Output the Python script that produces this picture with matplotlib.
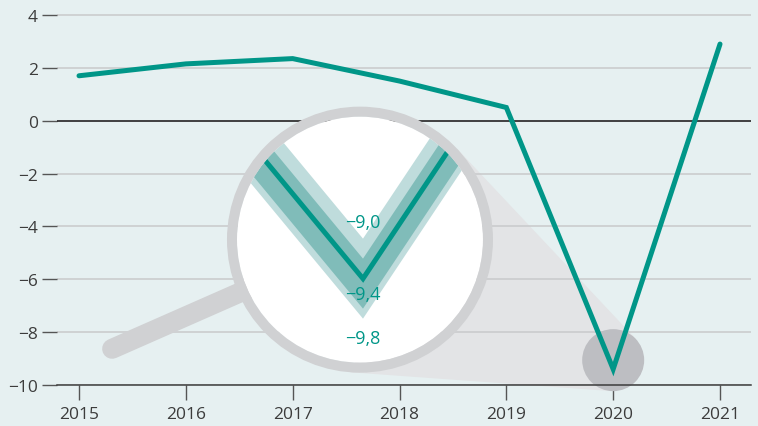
# -*- coding: utf-8 -*-
# Crescimento anual com lupa sobre 2020

import numpy as np
import matplotlib.pyplot as plt
from matplotlib.patches import Circle, Polygon
from matplotlib.lines import Line2D
from matplotlib.transforms import IdentityTransform

plt.rcParams['font.family'] = ['Open Sans', 'DejaVu Sans']

# Dados
anos = [2015, 2016, 2017, 2018, 2019, 2020, 2021]
valores = [1.7, 2.15, 2.35, 1.5, 0.5, -9.4, 2.9]
yticks = [4, 2, 0, -2, -4, -6, -8, -10]

# Faixas de incerteza mostradas na lupa (em torno do valor de 2020)
faixa_clara = (0.4, -0.4)
faixa_escura = (0.2, -0.3)
rotulos_lupa = ['−9,0', '−9,4', '−9,8']
valores_lupa = [-9.0, -9.4, -9.8]

# Cores
fundo = '#e6f0f1'
verde = '#009688'
verde_medio = '#80bcb9'
verde_claro = '#bfdcdc'
cinza_anel = '#d0d1d3'
cinza_cone = '#e3e4e6'
cinza_ponto = '#bdbec2'
texto = '#3c3c3c'

W, H = 758, 427
fig = plt.figure(figsize=(W / 100, H / 100), dpi=100, facecolor=fundo)
ax = fig.add_axes([57 / W, 1 - 386 / H, (751 - 57) / W, 386 / H])
ax.set_facecolor(fundo)
ax.set_xlim(2014.794, 2021.29)
ax.set_ylim(-10, 4.605)

ax.set_xticks(anos)
ax.set_yticks(yticks)
ax.set_yticklabels([str(v).replace('-', '−') for v in yticks])
ax.tick_params(axis='both', labelsize=12.5, labelcolor=texto, color='#555555',
               length=10.8, width=1)
ax.tick_params(axis='y', pad=3)
ax.tick_params(axis='x', pad=4)
for s in ['top', 'right', 'left']:
    ax.spines[s].set_visible(False)
ax.spines['bottom'].set_color('#3c3c3c')
ax.spines['bottom'].set_linewidth(1.1)
ax.yaxis.grid(True, color='#c8c9cb', lw=1.1)
ax.axhline(0, color='#1a1a1a', lw=1.1, zorder=1.6)
for t, v in zip(ax.yaxis.get_major_ticks(), yticks):
    if v == 0:
        t.tick1line.set_color('#1a1a1a')
    if v == -10:
        t.tick1line.set_color('#3c3c3c')

# Linha principal
ax.plot(anos, valores, color=verde, lw=3.6, solid_joinstyle='miter',
        solid_capstyle='round', zorder=3)

# Geometria da lupa (em pixels de tela)
idx = anos.index(2020)
cx, cy = ax.transData.transform((2017.63, -4.5))
R = 133.0
px, py = ax.transData.transform((anos[idx], valores[idx]))
py += 9
r = 31.0

# Cone entre a lupa e o ponto de 2020
c1 = np.array([cx, cy])
c2 = np.array([px, py])
d = np.linalg.norm(c2 - c1)
u = (c2 - c1) / d
th = np.arccos((R - r) / d)
pts = []
for sgn in (1, -1):
    a = sgn * th
    n = np.array([u[0] * np.cos(a) - u[1] * np.sin(a),
                  u[0] * np.sin(a) + u[1] * np.cos(a)])
    pts.append((c1 + R * n, c2 + r * n))
poly = [pts[0][0], pts[0][1], pts[1][1], pts[1][0]]
ax.add_patch(Polygon(poly, closed=True, facecolor=cinza_cone, edgecolor='none',
                     transform=IdentityTransform(), clip_on=False, zorder=1))
ax.add_patch(Circle((px, py), r, facecolor=cinza_ponto, edgecolor='none',
                    transform=IdentityTransform(), clip_on=False, zorder=2))

# Cabo
hx, hy = ax.transData.transform((2015.31, -8.63))
ax.add_line(Line2D([cx, hx], [cy, hy], color=cinza_anel, lw=14.4,
                   solid_capstyle='round', transform=IdentityTransform(),
                   clip_on=False, zorder=2))

# Lente (eixo inserido)
axin = fig.add_axes([(cx - R) / W, (cy - R) / H, 2 * R / W, 2 * R / H])
axin.axis('off')
sx, sy = 820.0, 100.0
vx, vy = cx + 3, cy - 39
axin.set_xlim(2020 + (cx - R - vx) / sx, 2020 + (cx + R - vx) / sx)
axin.set_ylim(valores[idx] + (cy - R - vy) / sy, valores[idx] + (cy + R - vy) / sy)

r_in = 123.0 / (2 * R)
axin.add_patch(Circle((0.5, 0.5), r_in, facecolor='white', edgecolor='none',
                      transform=axin.transAxes, zorder=0))
clip = Circle((0.5, 0.5), r_in, transform=axin.transAxes)

v = np.array(valores)
f1 = axin.fill_between(anos, v + faixa_clara[1], v + faixa_clara[0],
                       color=verde_claro, lw=0, zorder=1)
f2 = axin.fill_between(anos, v + faixa_escura[1], v + faixa_escura[0],
                       color=verde_medio, lw=0, zorder=2)
ln, = axin.plot(anos, valores, color=verde, lw=3.6, solid_joinstyle='miter',
                zorder=3)
for a in (f1, f2, ln):
    a.set_clip_path(clip)

offs = [12, -11, -14]
for lab, val, off in zip(rotulos_lupa, valores_lupa, offs):
    axin.annotate(lab, (2020, val), xytext=(0, off), textcoords='offset points',
                  ha='center', va='center', fontsize=13, color=verde, zorder=4)

axin.add_patch(Circle((0.5, 0.5), 128.0 / (2 * R), facecolor='none',
                      edgecolor=cinza_anel, lw=7.2, transform=axin.transAxes,
                      clip_on=False, zorder=5))

fig.savefig('out.png', dpi=100, facecolor=fundo)
